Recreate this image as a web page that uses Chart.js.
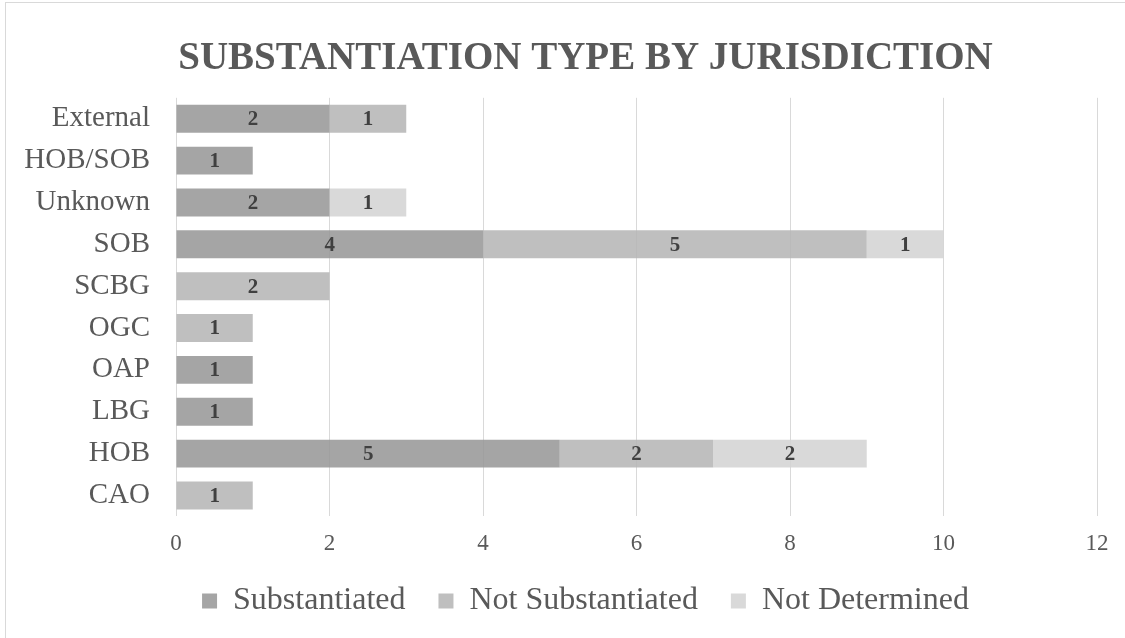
<!DOCTYPE html>
<html>
<head>
<meta charset="utf-8">
<script src="https://cdn.jsdelivr.net/npm/chart.js@4/dist/chart.umd.min.js"></script>
<style>
  html, body { margin: 0; padding: 0; background: #ffffff; }
  #wrap { position: relative; width: 1125px; height: 638px; overflow: hidden; }
  #frame { position: absolute; left: 5px; top: 2px; width: 1166px; height: 660px;
           border: 1px solid #d9d9d9; box-sizing: border-box; pointer-events: none; }
  canvas { position: absolute; left: 0; top: 0; }
</style>
</head>
<body>
<div id="wrap">
  <canvas id="chart" width="1171" height="660"></canvas>
  <div id="frame"></div>
</div>
<script>
// Jurisdictions, listed top to bottom
const categories = ['External', 'HOB/SOB', 'Unknown', 'SOB', 'SCBG', 'OGC', 'OAP', 'LBG', 'HOB', 'CAO'];

// Case counts per substantiation outcome
const substantiated    = [2, 1, 2, 4, 0, 0, 1, 1, 5, 0];
const notSubstantiated = [1, 0, 0, 5, 2, 1, 0, 0, 2, 1];
const notDetermined    = [0, 0, 1, 1, 0, 0, 0, 0, 2, 0];

const seriesNames = ['Substantiated', 'Not Substantiated', 'Not Determined'];
const xTicks = [0, 2, 4, 6, 8, 10, 12];

const SERIF = '"Liberation Serif", "Times New Roman", serif';
const TEXT = '#595959';

// Writes each segment's count in the middle of the segment
const segmentLabels = {
  id: 'segmentLabels',
  afterDatasetsDraw(chart) {
    const ctx = chart.ctx;
    ctx.save();
    ctx.font = 'bold 21px ' + SERIF;
    ctx.fillStyle = '#404040';
    ctx.textAlign = 'center';
    ctx.textBaseline = 'middle';
    chart.data.datasets.forEach((ds, di) => {
      const meta = chart.getDatasetMeta(di);
      meta.data.forEach((bar, i) => {
        const v = ds.data[i];
        if (!v) return;
        const p = bar.getProps(['x', 'y', 'base'], true);
        ctx.fillText(String(v), (p.x + p.base) / 2, p.y + 1);
      });
    });
    ctx.restore();
  }
};

new Chart(document.getElementById('chart'), {
  type: 'bar',
  data: {
    labels: categories,
    datasets: [
      { label: seriesNames[0], data: substantiated,    backgroundColor: 'rgba(152,152,152,0.87)' },
      { label: seriesNames[1], data: notSubstantiated, backgroundColor: 'rgba(181,181,181,0.87)' },
      { label: seriesNames[2], data: notDetermined,    backgroundColor: 'rgba(211,211,211,0.87)' }
    ]
  },
  options: {
    indexAxis: 'y',
    responsive: false,
    animation: false,
    layout: { padding: { left: 0, right: 0, top: 36, bottom: 33 } },
    datasets: { bar: { barPercentage: 1, categoryPercentage: 0.667, borderWidth: 0 } },
    scales: {
      x: {
        stacked: true,
        min: 0, max: 12,
        afterBuildTicks(scale) { scale.ticks = xTicks.map(v => ({ value: v })); },
        afterFit(scale) { scale.height = scale.height - 20; },
        grid: { color: '#d9d9d9', lineWidth: 1, drawTicks: false },
        border: { display: false },
        ticks: { color: TEXT, font: { family: SERIF, size: 23 }, padding: 14 }
      },
      y: {
        stacked: true,
        afterFit(scale) { scale.width = 176; },
        grid: { display: false, drawTicks: false },
        border: { display: false },
        ticks: { color: TEXT, font: { family: SERIF, size: 29 }, padding: 26 }
      },
      // empty right-hand margin axis that keeps the plot clear of the frame edge
      yMargin: {
        type: 'category',
        position: 'right',
        afterFit(scale) { scale.width = 74; },
        grid: { display: false, drawTicks: false },
        border: { display: false },
        ticks: { display: false }
      }
    },
    plugins: {
      title: {
        display: true,
        text: 'SUBSTANTIATION TYPE BY JURISDICTION',
        color: TEXT,
        font: { family: SERIF, size: 39, weight: 'bold' },
        padding: { top: 0, bottom: 15 }
      },
      legend: {
        position: 'bottom',
        labels: {
          color: TEXT,
          font: { family: SERIF, size: 32 },
          boxWidth: 15, boxHeight: 15,
          padding: 33
        }
      },
      tooltip: { enabled: false }
    }
  },
  plugins: [segmentLabels]
});
</script>
</body>
</html>
